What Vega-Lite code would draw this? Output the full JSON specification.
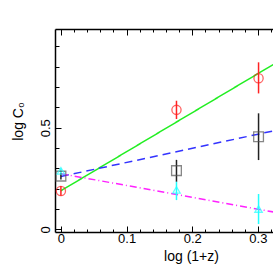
{
  "$schema": "https://vega.github.io/schema/vega-lite/v6.json",
  "autosize": "none",
  "width": 218,
  "height": 203,
  "padding": {"left": 55, "top": 29, "right": 0, "bottom": 41},
  "background": "white",
  "config": {
    "view": {"stroke": null},
    "font": "Liberation Sans",
    "axis": {"grid": false, "domainColor": "black", "tickColor": "black", "labelColor": "black", "titleColor": "black", "domainWidth": 1.5, "tickWidth": 1, "labelFont": "Liberation Sans", "titleFont": "Liberation Sans", "labelFontSize": 13, "titleFontSize": 14, "titleFontWeight": "normal", "labelFlush": false, "labelOverlap": false}
  },
  "datasets": {
    "lines": [
      {"series": "green", "x": 0, "y": 0.19},
      {"series": "green", "x": 0.33, "y": 0.824},
      {"series": "blue", "x": 0, "y": 0.26},
      {"series": "blue", "x": 0.33, "y": 0.489},
      {"series": "magenta", "x": 0, "y": 0.274},
      {"series": "magenta", "x": 0.33, "y": 0.082}
    ],
    "points": [
      {"series": "circle", "x": 0, "y": 0.189, "lo": 0.165, "hi": 0.213},
      {"series": "circle", "x": 0.176, "y": 0.588, "lo": 0.543, "hi": 0.633},
      {"series": "circle", "x": 0.301, "y": 0.744, "lo": 0.669, "hi": 0.822},
      {"series": "square", "x": 0, "y": 0.262, "lo": 0.245, "hi": 0.279},
      {"series": "square", "x": 0.176, "y": 0.289, "lo": 0.234, "hi": 0.342},
      {"series": "square", "x": 0.301, "y": 0.456, "lo": 0.341, "hi": 0.571},
      {"series": "triangle", "x": 0, "y": 0.288, "lo": 0.275, "hi": 0.3},
      {"series": "triangle", "x": 0.176, "y": 0.194, "lo": 0.144, "hi": 0.234},
      {"series": "triangle", "x": 0.301, "y": 0.1, "lo": 0.026, "hi": 0.174}
    ]
  },
  "resolve": {"axis": {"x": "independent", "y": "independent"}, "scale": {"color": "independent", "strokeDash": "independent"}},
  "layer": [
    {
      "data": {"name": "lines"},
      "mark": {"type": "line", "strokeWidth": 1.5, "clip": true},
      "encoding": {
        "x": {"field": "x", "type": "quantitative", "scale": {"domain": [-0.009, 0.323], "nice": false, "zero": false},
          "axis": {"orient": "bottom", "values": [0, 0.1, 0.2, 0.3], "labelExpr": "datum.value == 0 ? '0' : format(datum.value, '.1f')", "tickSize": -6, "labelPadding": 6, "title": "log  (1+z)", "titleX": 136, "titlePadding": 4}},
        "y": {"field": "y", "type": "quantitative", "scale": {"domain": [-0.013, 0.986], "nice": false, "zero": false},
          "axis": {"orient": "left", "values": [0, 0.5], "labelExpr": "datum.value == 0 ? '0' : format(datum.value, '.1f')", "tickSize": -6, "labelAngle": -90, "labelAlign": "center", "labelBaseline": "bottom", "labelPadding": 9, "title": "log C₀", "titleY": 92, "titlePadding": 14}},
        "detail": {"field": "series"},
        "color": {"field": "series", "type": "nominal", "scale": {"domain": ["green", "blue", "magenta"], "range": ["#22ee22", "#3333ff", "#ff22ff"]}, "legend": null},
        "strokeDash": {"field": "series", "type": "nominal", "scale": {"domain": ["green", "blue", "magenta"], "range": [[1, 0], [8, 5], [7, 3, 1, 3]]}, "legend": null}
      }
    },
    {
      "data": {"name": "points"},
      "mark": {"type": "rule", "strokeWidth": 1.5},
      "encoding": {
        "x": {"field": "x", "type": "quantitative", "scale": {"domain": [-0.009, 0.323], "nice": false, "zero": false},
          "axis": {"orient": "bottom", "values": [0.02, 0.04, 0.06, 0.08, 0.12, 0.14, 0.16, 0.18, 0.22, 0.24, 0.26, 0.28, 0.32], "tickSize": -3, "labels": false, "domain": false, "title": null}},
        "y": {"field": "lo", "type": "quantitative", "scale": {"domain": [-0.013, 0.986], "nice": false, "zero": false},
          "axis": {"orient": "left", "values": [0.1, 0.2, 0.3, 0.4, 0.6, 0.7, 0.8, 0.9], "tickSize": -4, "labels": false, "domain": false, "title": null}},
        "y2": {"field": "hi"},
        "color": {"field": "series", "type": "nominal", "scale": {"domain": ["circle", "square", "triangle"], "range": ["#ff2222", "#222222", "#22ffff"]}, "legend": null}
      }
    },
    {
      "data": {"name": "points"},
      "transform": [{"filter": "datum.series === 'circle'"}],
      "mark": {"type": "point", "shape": "circle", "size": 85, "stroke": "#ff2222", "strokeWidth": 1.3, "filled": false},
      "encoding": {
        "x": {"field": "x", "type": "quantitative", "scale": {"domain": [-0.009, 0.323], "nice": false, "zero": false},
          "axis": {"orient": "top", "values": [0, 0.1, 0.2, 0.3], "tickSize": -6, "labels": false, "title": null}},
        "y": {"field": "y", "type": "quantitative", "scale": {"domain": [-0.013, 0.986], "nice": false, "zero": false}, "axis": null}
      }
    },
    {
      "data": {"name": "points"},
      "transform": [{"filter": "datum.series === 'square'"}],
      "mark": {"type": "point", "shape": "square", "size": 95, "stroke": "#555555", "strokeWidth": 1.3, "filled": false},
      "encoding": {
        "x": {"field": "x", "type": "quantitative", "scale": {"domain": [-0.009, 0.323], "nice": false, "zero": false},
          "axis": {"orient": "top", "values": [0.02, 0.04, 0.06, 0.08, 0.12, 0.14, 0.16, 0.18, 0.22, 0.24, 0.26, 0.28, 0.32], "tickSize": -3, "labels": false, "domain": false, "title": null}},
        "y": {"field": "y", "type": "quantitative", "scale": {"domain": [-0.013, 0.986], "nice": false, "zero": false}, "axis": null}
      }
    },
    {
      "data": {"name": "points"},
      "transform": [{"filter": "datum.series === 'triangle'"}],
      "mark": {"type": "point", "shape": "triangle-up", "size": 55, "stroke": "#22ffff", "strokeWidth": 1.3, "filled": false},
      "encoding": {
        "x": {"field": "x", "type": "quantitative", "scale": {"domain": [-0.009, 0.323], "nice": false, "zero": false}, "axis": null},
        "y": {"field": "y", "type": "quantitative", "scale": {"domain": [-0.013, 0.986], "nice": false, "zero": false}, "axis": null}
      }
    }
  ]
}
